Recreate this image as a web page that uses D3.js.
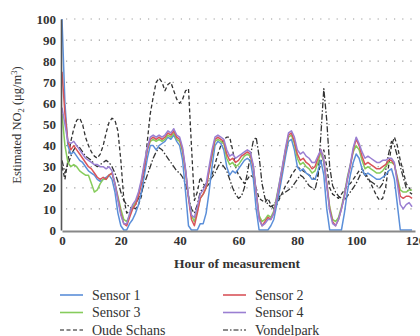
<!DOCTYPE html>
<html><head><meta charset="utf-8">
<script src="https://cdn.jsdelivr.net/npm/d3@7"></script>
<style>body{margin:0;background:#fff}svg{display:block}</style>
</head><body>
<script>
const hours = d3.range(0, 120);
const sensor1 = [100,60,40,36,37,35,33,32,30,28,27,26,24,23,24,25,26,24,18,8,2,0,0,3,5,8,12,18,26,34,40,40,38,40,41,42,44,43,45,42,40,33,18,2,0,0,0,3,3,8,18,30,40,42,41,38,30,26,28,27,29,31,33,34,33,25,10,0,0,0,0,2,5,12,19,27,35,42,43,38,30,28,29,27,26,24,24,28,33,26,10,0,0,0,0,0,8,18,26,32,36,34,29,26,27,26,25,24,24,25,26,28,29,24,12,0,0,0,0,0];
const sensor2 = [75,55,42,38,40,38,36,34,32,30,29,27,25,24,25,24,26,27,22,15,8,3,2,6,10,12,16,22,30,38,43,44,43,44,43,44,46,45,47,44,43,38,28,15,5,2,8,15,17,20,28,36,43,44,43,42,36,33,34,32,33,35,36,37,36,30,18,6,2,4,6,5,8,15,22,30,38,45,46,42,36,33,34,32,31,29,30,34,38,33,22,10,4,2,5,10,16,24,30,38,43,40,35,31,32,31,30,29,29,30,31,33,33,31,24,16,15,16,16,15];
const sensor3 = [55,40,32,30,31,30,28,27,26,26,22,18,19,22,24,24,26,27,22,16,10,5,4,7,11,13,17,23,31,38,42,43,42,43,42,43,45,44,46,43,42,37,28,16,7,4,9,15,17,20,28,35,42,43,42,41,34,31,32,30,31,33,35,36,35,30,18,7,4,5,7,6,9,16,23,30,38,44,45,41,34,31,32,30,29,27,28,32,37,32,22,11,5,4,6,11,17,25,31,37,40,38,33,29,30,29,28,27,27,28,30,32,32,31,25,19,18,18,19,19];
const sensor4 = [58,50,42,41,42,40,38,36,34,33,32,31,31,30,30,29,30,28,22,14,7,3,3,8,12,14,18,24,32,39,44,45,44,45,44,45,47,46,48,45,44,39,29,16,7,6,11,17,19,22,30,38,44,45,44,43,38,35,36,34,35,36,37,38,37,31,18,5,2,3,5,5,8,15,23,31,39,46,47,44,38,36,37,35,34,32,32,35,38,33,21,9,3,2,5,10,16,24,31,39,44,41,37,34,35,34,33,32,32,33,33,34,34,32,22,12,10,12,13,11];
const oudeSchans = [30,24,33,42,48,52,53,50,44,40,37,35,34,36,40,46,51,53,52,47,33,15,8,9,11,10,12,16,28,42,55,63,70,72,70,66,69,70,66,62,60,62,66,67,40,14,18,25,22,20,22,26,31,36,40,43,44,44,38,30,26,24,22,24,26,25,20,15,14,13,15,12,10,12,15,18,21,23,26,28,30,29,28,27,26,25,24,26,32,38,30,20,17,16,15,17,19,21,22,24,26,28,29,27,25,22,19,16,14,15,20,30,40,44,40,33,28,22,20,18];
const vondelpark = [33,27,31,35,38,40,39,37,35,34,33,31,30,31,32,33,32,30,27,23,18,14,12,11,10,12,15,18,22,26,30,34,37,39,38,36,34,32,30,28,27,25,22,16,10,8,12,18,20,22,24,25,27,30,32,30,28,24,20,17,15,16,20,27,35,42,44,35,22,15,12,11,12,14,16,17,18,19,20,22,24,26,25,23,21,20,19,25,45,67,52,30,21,18,16,15,14,16,18,20,22,25,28,26,24,23,22,21,20,22,28,36,42,40,35,30,25,20,18,17];

const xTicks = [0,20,40,60,80,100,120];
const yTicks = [0,10,20,30,40,50,60,70,80,90,100];
const seriesNames = ["Sensor 1","Sensor 2","Sensor 3","Sensor 4","Oude Schans","Vondelpark"];
const seriesValues = [sensor1,sensor2,sensor3,sensor4,oudeSchans,vondelpark];
const colors = ["#5b8fd9","#d9545a","#86cc5c","#9a7fd2","#333","#333"];
const dashes = [null,null,null,null,"4,2.5","6,2,1.5,2"];
const widths = [1.5,1.5,1.5,1.5,1.3,1.3];

const FONT = '"Liberation Serif"';
const W = 420, H = 336;
const svg = d3.select("body").append("svg").attr("width", W).attr("height", H);
const x = d3.scaleLinear().domain([0,120]).range([62,415]);
const y = d3.scaleLinear().domain([0,100]).range([230,19]);

// dotted gridlines
svg.append("g").selectAll("line").data(yTicks.filter(d=>d>0)).join("line")
  .attr("x1", 66).attr("x2", 415)
  .attr("y1", d=>y(d)).attr("y2", d=>y(d))
  .attr("stroke", "#999").attr("stroke-width", 1.2)
  .attr("stroke-dasharray", "1.2,7");

// lines
const line = d3.line().x((d,i)=>x(hours[i])).y(d=>y(d));
const order = [5,4,0,2,1,3];
order.forEach(k=>{
  svg.append("path").datum(seriesValues[k])
    .attr("d", line).attr("fill","none")
    .attr("stroke", colors[k]).attr("stroke-width", widths[k])
    .attr("stroke-dasharray", dashes[k])
    .attr("stroke-linejoin","round");
});

// axes
const xAxis = svg.append("g").attr("transform","translate(0,231)")
  .call(d3.axisBottom(x).tickValues(xTicks).tickSize(0).tickPadding(5));
xAxis.attr("font-family", FONT);
xAxis.select(".domain").attr("stroke","#888").attr("stroke-width",2.2);
xAxis.selectAll("text").style("font-family",FONT).style("font-size","13px").style("font-weight","bold").attr("fill","#333");

const yAxis = svg.append("g").attr("transform","translate(61,0)")
  .call(d3.axisLeft(y).tickValues(yTicks).tickSize(0).tickPadding(5));
yAxis.attr("font-family", FONT);
yAxis.select(".domain").attr("stroke","#555").attr("stroke-width",1.6);
yAxis.selectAll("text").style("font-family",FONT).style("font-size","13px").style("font-weight","bold").attr("fill","#333");

// axis titles
svg.append("text").attr("x",237).attr("y",268).attr("text-anchor","middle")
  .style("font-family",FONT).style("font-size","13.5px").style("font-weight","bold").attr("fill","#333")
  .text("Hour of measurement");
const yt = svg.append("text").attr("transform","translate(21,125) rotate(-90)").attr("text-anchor","middle")
  .style("font-family",FONT).style("font-size","12.5px").attr("fill","#333");
yt.append("tspan").text("Estimated NO");
yt.append("tspan").style("font-size","8.5px").attr("dy",3).text("2");
yt.append("tspan").attr("dy",-3).text(" (μg/m");
yt.append("tspan").style("font-size","8.5px").attr("dy",-4).text("3");
yt.append("tspan").attr("dy",4).text(")");

// legend
const legend = svg.append("g");
seriesNames.forEach((name,k)=>{
  const col = k%2, row = Math.floor(k/2);
  const lx = col===0 ? 60 : 223;
  const ly = 295 + row*17.5;
  legend.append("line").attr("x1",lx).attr("x2",lx+23).attr("y1",ly).attr("y2",ly)
    .attr("stroke", k<4 ? colors[k] : "#666").attr("stroke-width",1.6)
    .attr("stroke-dasharray", k===4 ? "4,2.5" : (k===5 ? "5,2,1.5,2" : null));
  legend.append("text").attr("x",lx+32).attr("y",ly+4.5)
    .style("font-family",FONT).style("font-size","14px").attr("fill","#333").text(name);
});
</script>
</body></html>
